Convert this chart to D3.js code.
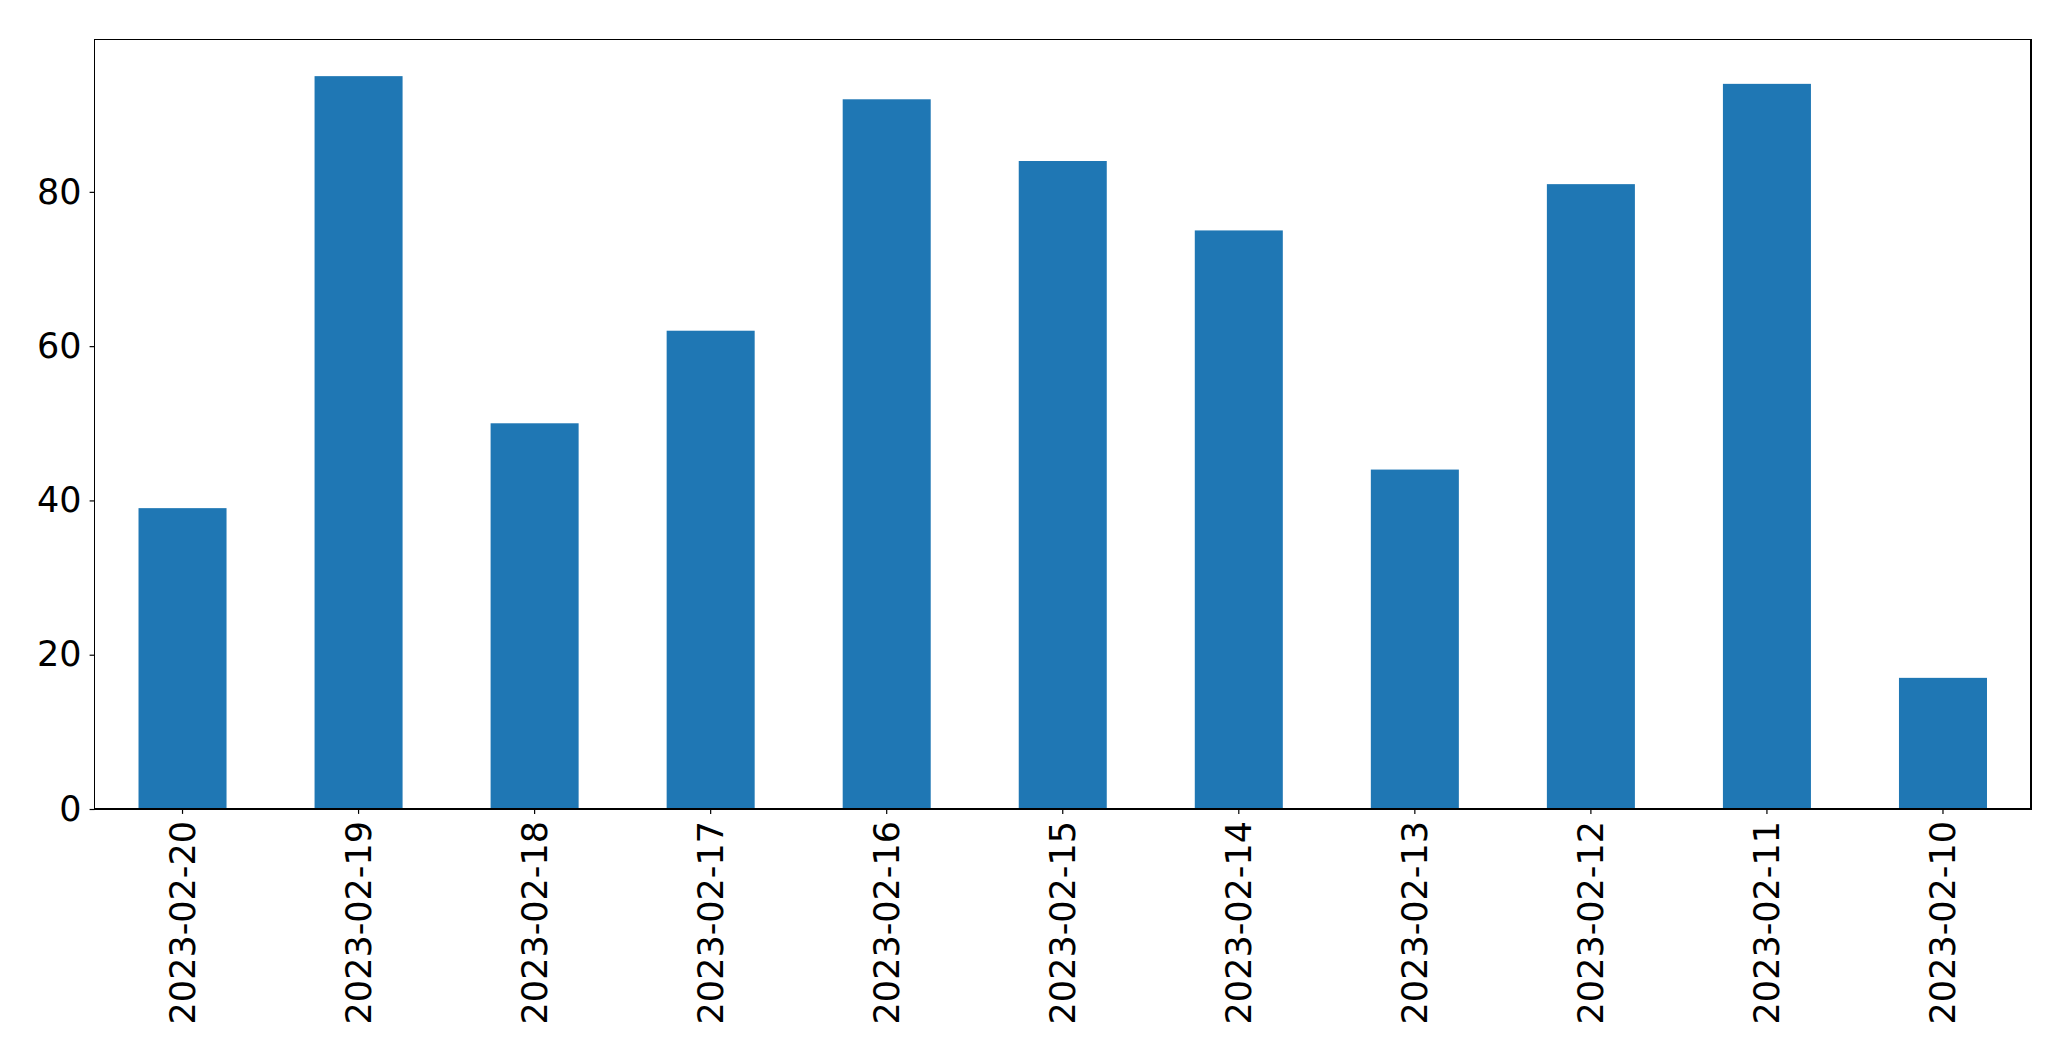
<!DOCTYPE html>
<html>
<head>
<meta charset="utf-8">
<script src="https://cdn.jsdelivr.net/npm/d3@7"></script>
<style>
  html, body { margin: 0; padding: 0; background: #fff; }
  svg { display: block; }
  text { font-family: "DejaVu Sans", sans-serif; fill: #000; }
</style>
</head>
<body>
<svg id="chart" width="2071" height="1061"></svg>
<script>
const categories = ["2023-02-20","2023-02-19","2023-02-18","2023-02-17","2023-02-16","2023-02-15","2023-02-14","2023-02-13","2023-02-12","2023-02-11","2023-02-10"];
const values = [39, 95, 50, 62, 92, 84, 75, 44, 81, 94, 17];
const yTicks = [0, 20, 40, 60, 80];

const margin = {left: 94.5, top: 39.5, right: 2071 - 2031, bottom: 1061 - 809};
const W = 2071, H = 1061;
const iw = W - margin.left - margin.right;
const ih = H - margin.top - margin.bottom;

const svg = d3.select("#chart");
const g = svg.append("g").attr("transform", `translate(${margin.left},${margin.top})`);

const x = d3.scaleBand().domain(categories).range([0, iw]).paddingInner(0.5).paddingOuter(0.25);
const y = d3.scaleLinear().domain([0, d3.max(values) * 1.05]).range([ih, 0]);

g.selectAll("rect.bar").data(values).enter().append("rect")
  .attr("class", "bar")
  .attr("x", (d, i) => x(categories[i]))
  .attr("y", d => y(d))
  .attr("width", x.bandwidth())
  .attr("height", d => ih - y(d))
  .attr("fill", "#1f77b4");

const fs = 35;

const yAxis = g.append("g").call(d3.axisLeft(y).tickValues(yTicks).tickSize(4.9).tickPadding(8).tickFormat(d3.format("d")));
yAxis.select(".domain").remove();
yAxis.selectAll("line").attr("stroke", "#000").attr("stroke-width", 1.2);
yAxis.selectAll("text").style("font-size", fs + "px").attr("font-family", "DejaVu Sans");

const xAxis = g.append("g").attr("transform", `translate(0,${ih})`)
  .call(d3.axisBottom(x).tickSize(4.9).tickPadding(0));
xAxis.select(".domain").remove();
xAxis.selectAll("line").attr("stroke", "#000").attr("stroke-width", 1.2);
xAxis.selectAll("text")
  .style("font-size", fs + "px")
  .attr("font-family", "DejaVu Sans")
  .attr("text-anchor", "end")
  .attr("transform", "translate(0,12) rotate(-90)")
  .attr("x", 0).attr("y", 0).attr("dy", "0.35em");

g.append("rect").attr("x", 0).attr("y", 0).attr("width", iw).attr("height", ih)
  .attr("fill", "none").attr("stroke", "#000").attr("stroke-width", 1.3)
  .attr("shape-rendering", "crispEdges");
</script>
</body>
</html>
